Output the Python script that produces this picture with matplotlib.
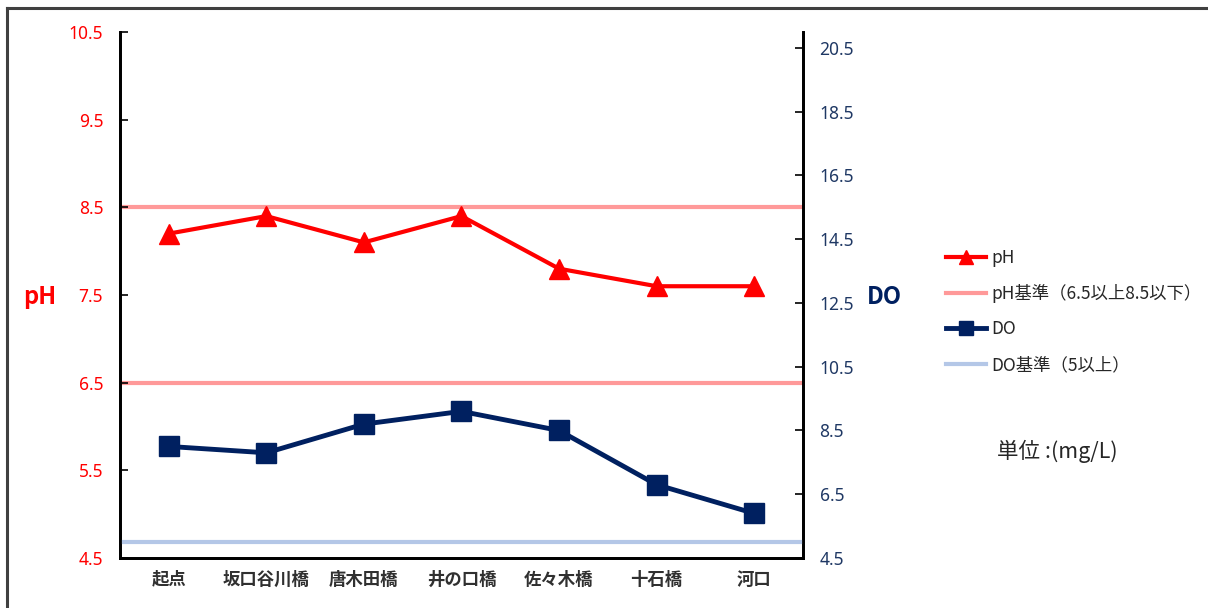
import matplotlib
matplotlib.use("Agg")
import matplotlib.pyplot as plt
from matplotlib.lines import Line2D

plt.rcParams['font.family'] = ['Noto Sans CJK JP', 'DejaVu Sans']

# 測定地点と測定値
地点 = ['起点', '坂口谷川橋', '唐木田橋', '井の口橋', '佐々木橋', '十石橋', '河口']
ph = [8.2, 8.4, 8.1, 8.4, 7.8, 7.6, 7.6]
do = [8.0, 7.8, 8.7, 9.1, 8.5, 6.8, 5.9]

# 環境基準
ph_基準 = [6.5, 8.5]
do_基準 = 5.0

ph_ticks = [4.5, 5.5, 6.5, 7.5, 8.5, 9.5, 10.5]
do_ticks = [4.5, 6.5, 8.5, 10.5, 12.5, 14.5, 16.5, 18.5, 20.5]

赤 = '#FF0000'
紺 = '#002060'
ph線色 = '#FF9999'
do線色 = '#B4C7E7'
do文字色 = '#1F3864'

fig = plt.figure(figsize=(12.08, 6.08), dpi=100)
ax = fig.add_axes([0.0993, 0.0822, 0.5654, 0.8652])
ax2 = ax.twinx()

x = list(range(len(地点)))

# 基準線
for v in ph_基準:
    ax.axhline(v, color=ph線色, lw=3, zorder=1)
ax2.axhline(do_基準, color=do線色, lw=3, zorder=1)

ax.plot(x, ph, color=赤, lw=3, marker='^', markersize=15, zorder=3)
ax2.plot(x, do, color=紺, lw=3.5, marker='s', markersize=15, zorder=3)

ax.set_xlim(-0.5, len(地点) - 0.5)
ax.set_ylim(4.5, 10.5)
ax2.set_ylim(4.5, 21.0)

ax.set_yticks(ph_ticks)
ax.set_yticklabels([f'{t:.1f}' for t in ph_ticks], fontfamily='Noto Sans')
ax2.set_yticks(do_ticks)
ax2.set_yticklabels([f'{t:.1f}' for t in do_ticks], fontfamily='Noto Sans')

ax.set_xticks(x)
ax.set_xticklabels(地点, fontsize=12.5, fontweight='bold', color='#303030')
ax.tick_params(axis='x', length=0, pad=9)
ax.tick_params(axis='y', direction='in', length=6, width=1.2, colors='black',
               labelcolor=赤, labelsize=12.5, pad=12)
ax2.tick_params(axis='y', direction='in', length=6, width=1.2, colors='black',
                labelcolor=do文字色, labelsize=12.5, pad=12)

for a in (ax, ax2):
    a.spines['top'].set_visible(False)
    for s in ('left', 'right', 'bottom'):
        a.spines[s].set_linewidth(2)
ax.patch.set_visible(False)

fig.text(0.033, 0.511, 'pH', color=赤, fontsize=17, fontweight='bold',
         ha='center', va='center')
fig.text(0.732, 0.511, 'DO', color=紺, fontsize=17, fontweight='bold',
         ha='center', va='center')

handles = [
    Line2D([], [], color=赤, lw=3, marker='^', markersize=10),
    Line2D([], [], color=ph線色, lw=3),
    Line2D([], [], color=紺, lw=3.5, marker='s', markersize=10),
    Line2D([], [], color=do線色, lw=3),
]
labels = ['pH', 'pH基準（6.5以上8.5以下）', 'DO', 'DO基準（5以上）']
fig.legend(handles, labels, loc='center left', bbox_to_anchor=(0.77, 0.488),
           frameon=False, fontsize=12.5, handlelength=2.3, handletextpad=0.3,
           labelspacing=1.0, labelcolor='#262626')

fig.text(0.875, 0.258, '単位 :(mg/L)', fontsize=15.5, color='#262626',
         ha='center', va='center')

# 外枠（左と上）
fig.add_artist(Line2D([0.0058, 0.0058], [0.0, 0.987], color='#404040', lw=2.2))
fig.add_artist(Line2D([0.0058, 1.0], [0.987, 0.987], color='#404040', lw=2.2))

fig.savefig('out.png', dpi=100)
